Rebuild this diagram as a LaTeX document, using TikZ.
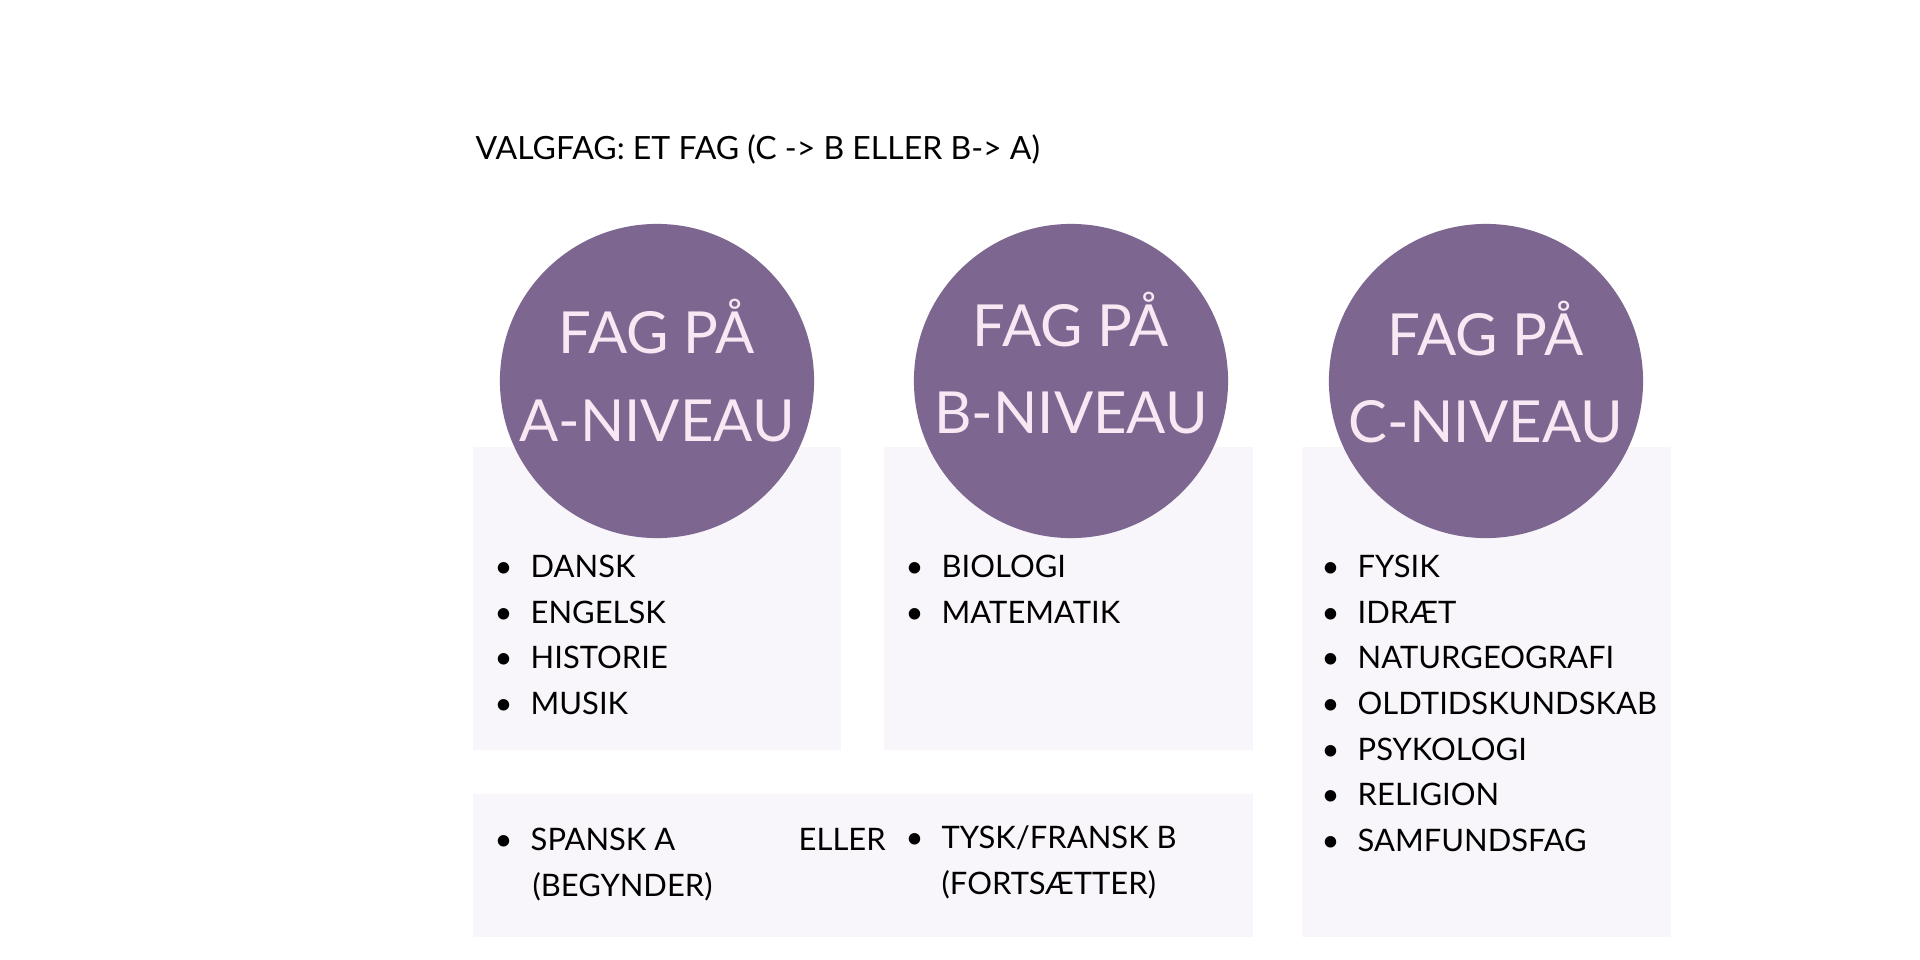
\documentclass[tikz,border=0pt]{standalone}
\usepackage{fontspec}
\setmainfont{Lato}
\definecolor{fagpurple}{HTML}{7D6791}
\definecolor{fagpanel}{HTML}{F8F6FA}
\definecolor{faglight}{HTML}{F7E8F4}
\newcommand\fagdot{\llap{\makebox[0pt][c]{\textbullet}\hspace{7.7pt}}}
\tikzset{
  panel/.style={fill=fagpanel},
  niveau/.style={circle,fill=fagpurple,minimum size=3.14cm,inner sep=0pt},
  niveautext/.style={text=faglight,align=center,inner sep=0pt,
    font=\fontsize{16.5}{24.8}\selectfont},
  fagitem/.style={anchor=base west,inner sep=0pt,font=\fontsize{8.8}{13}\selectfont},
  headline/.style={anchor=base west,inner sep=0pt,font=\fontsize{9.1}{12}\selectfont}
}
\begin{document}
\begin{tikzpicture}[x=0.01cm,y=-0.01cm]
\useasboundingbox (0,0) rectangle (1920,960);
\fill[white] (0,0) rectangle (1920,960);
%
\node at (475,159) [headline] (titel) {VALGFAG: ET FAG (C -> B ELLER B-> A)};
%
\fill[panel] (473,447) rectangle (841,750);
\fill[panel] (884,447) rectangle (1253,750);
\fill[panel] (1302,447) rectangle (1671,937);
\fill[panel] (473,794) rectangle (1253,937);
%
\node at (657,381) [niveau,label={[niveautext,yshift=3pt]center:{FAG PÅ\\A-NIVEAU}}] (nA) {};
\node at (1071,381) [niveau,label={[niveautext,yshift=5.2pt]center:{FAG PÅ\\B-NIVEAU}}] (nB) {};
\node at (1486,381) [niveau,label={[niveautext,yshift=2.6pt]center:{FAG PÅ\\C-NIVEAU}}] (nC) {};
%
\node at (530,577) [fagitem] (a1) {\fagdot DANSK};
\node at (530,623) [fagitem] (a2) {\fagdot ENGELSK};
\node at (530,668) [fagitem] (a3) {\fagdot HISTORIE};
\node at (530,714) [fagitem] (a4) {\fagdot MUSIK};
%
\node at (941,577) [fagitem] (b1) {\fagdot BIOLOGI};
\node at (941,623) [fagitem] (b2) {\fagdot MATEMATIK};
%
\node at (1357,577) [fagitem] (c1) {\fagdot FYSIK};
\node at (1357,623) [fagitem] (c2) {\fagdot IDRÆT};
\node at (1357,668) [fagitem] (c3) {\fagdot NATURGEOGRAFI};
\node at (1357,714) [fagitem] (c4) {\fagdot OLDTIDSKUNDSKAB};
\node at (1357,760) [fagitem] (c5) {\fagdot PSYKOLOGI};
\node at (1357,805) [fagitem] (c6) {\fagdot RELIGION};
\node at (1357,851) [fagitem] (c7) {\fagdot SAMFUNDSFAG};
%
\node at (530,850) [fagitem] (s1) {\fagdot SPANSK A};
\node at (532,896) [fagitem] (s2) {(BEGYNDER)};
\node at (798,850) [fagitem] (eller) {ELLER};
\node at (941,848) [fagitem] (t1) {\fagdot TYSK/FRANSK B};
\node at (941,894) [fagitem] (t2) {(FORTSÆTTER)};
\end{tikzpicture}
\end{document}
